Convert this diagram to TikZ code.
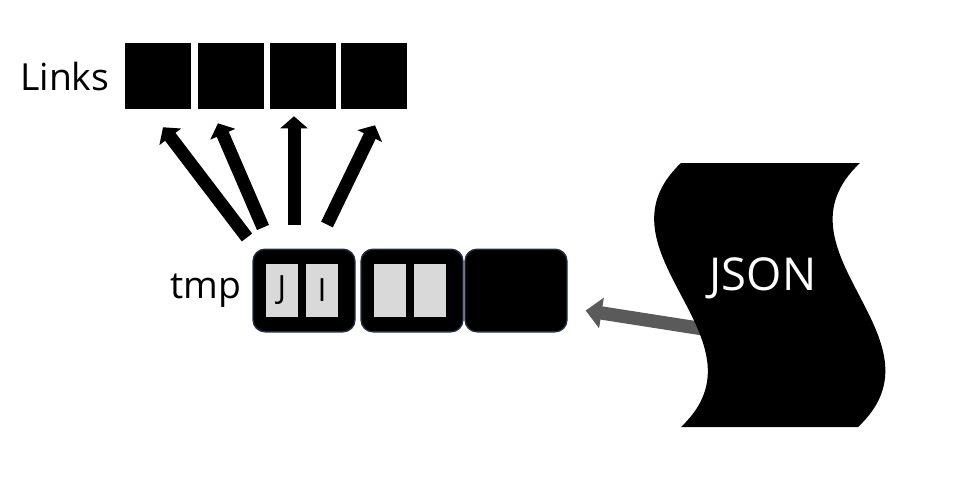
\documentclass[tikz,border=0pt]{standalone}
\usepackage{fontspec}
\setmainfont{Open Sans}
\usetikzlibrary{arrows.meta,positioning,calc}
\definecolor{slotgray}{HTML}{D9D9D9}
\definecolor{cellrim}{HTML}{243047}
\definecolor{feedgray}{HTML}{5A5A5A}
\tikzset{
  linkbox/.style={fill=black, minimum width=49.5pt, minimum height=49.5pt, inner sep=0pt},
  cellbox/.style={fill=black, draw=cellrim, line width=1pt, rounded corners=9pt,
    minimum width=76.5pt, minimum height=62pt, inner sep=0pt},
  slotbox/.style={fill=slotgray, minimum width=24pt, minimum height=40pt, inner sep=0pt,
    font=\fontsize{24}{24}\selectfont},
  fatarrow/.style={line width=9.75pt, -{Triangle[width=20pt,length=9pt]}},
  feedarrow/.style={feedgray, line width=10pt, -{Triangle[width=22.5pt,length=12pt]}},
}
\begin{document}
\begin{tikzpicture}[x=0.75pt,y=-0.75pt]
    \useasboundingbox (0,0) rectangle (958,480);
    % Links row
    \foreach \i/\x in {1/158,2/231,3/303,4/374}
        \node[linkbox] (l\i) at (\x,76) {};
    \node[left=8pt of l1, font=\fontsize{28}{28}\selectfont] (links) {Links};
    % tmp cells
    \foreach \i/\x in {1/304,2/412,3/516}
        \node[cellbox] (c\i) at (\x,290.5) {};
    \node[left=5pt of c1, font=\fontsize{28}{28}\selectfont] (tmp) {tmp};
    \node[slotbox] (s1) at (282,290.5) {J};
    \node[slotbox] (s2) at (322,290.5) {I};
    \node[slotbox] (s3) at (390,290.5) {};
    \node[slotbox] (s4) at (430,290.5) {};
    % arrows up to the links
    \draw[fatarrow] ($(c1.north)+(-57,-11)$) -- ($(l1.south)+(5,18)$);
    \draw[fatarrow] ($(c1.north)+(-41,-21)$) -- ($(l2.south)+(-13,14)$);
    \draw[fatarrow] ($(c1.north)+(-10,-24)$) -- ($(l3.south)+(-9,7)$);
    \draw[fatarrow] ($(c1.north)+(23,-24)$) -- ($(l4.south)+(1,16)$);
    % JSON source
    \coordinate (feed) at (723,332);
    \draw[feedarrow] (feed) -- ($(c3.east)+(18,20)$);
    \fill (681,163) .. controls (588,251) and (774,339) .. (681,427) -- (858,427)
        .. controls (952,339) and (766,251) .. (860,163) -- cycle;
    \node[anchor=base, white, font=\fontsize{34}{34}\selectfont] (json) at (763,290) {JSON};
\end{tikzpicture}
\end{document}
